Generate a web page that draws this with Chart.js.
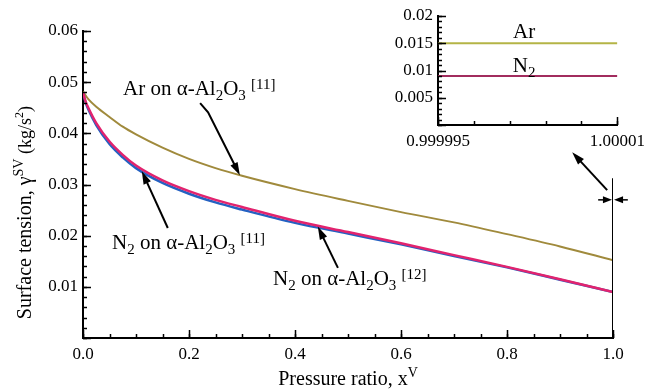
<!DOCTYPE html>
<html>
<head>
<meta charset="utf-8">
<script src="https://cdn.jsdelivr.net/npm/chart.js@4.4.1/dist/chart.umd.min.js"></script>
<style>
  html, body { margin: 0; padding: 0; background: #fff; }
  #wrap { position: relative; width: 651px; height: 390px; }
  #main { position: absolute; left: 0; top: 0; }
  #inset { position: absolute; left: 370px; top: 0; }
</style>
</head>
<body>
<div id="wrap">
  <canvas id="main" width="651" height="390"></canvas>
  <canvas id="inset" width="281" height="165"></canvas>
</div>
<script>
// Surface tension vs pressure ratio
const $ = (id) => document.getElementById(id);

const pressureRatio = [0, 0.005, 0.01, 0.025, 0.05, 0.075, 0.1, 0.15, 0.2, 0.25, 0.3, 0.4, 0.5, 0.6, 0.7, 0.8, 0.9, 1.0];
const arAl2O3_11 = [0.0482, 0.0474, 0.0467, 0.0452, 0.0432, 0.0413, 0.0398, 0.0372, 0.0350, 0.0332, 0.0317, 0.0291, 0.0268, 0.0246, 0.0226, 0.0203, 0.0179, 0.0152];
const n2Al2O3_12 = [0.0480, 0.0462, 0.0450, 0.0420, 0.0384, 0.0358, 0.0337, 0.0308, 0.0287, 0.0270, 0.0256, 0.0229, 0.0207, 0.0185, 0.0162, 0.0139, 0.0115, 0.0090];
const n2Al2O3_11 = [0.0480, 0.0460, 0.0447, 0.0416, 0.0379, 0.0353, 0.0332, 0.0303, 0.0282, 0.0265, 0.0251, 0.0225, 0.0204, 0.0183, 0.0160, 0.0138, 0.0114, 0.0090];

const xTickValues = [0, 0.2, 0.4, 0.6, 0.8, 1.0];
const xTickLabels = ["0.0", "0.2", "0.4", "0.6", "0.8", "1.0"];
const yTickValues = [0, 0.01, 0.02, 0.03, 0.04, 0.05, 0.06];
const yTickLabels = ["", "0.01", "0.02", "0.03", "0.04", "0.05", "0.06"];

// inset: zoom at x -> 1
const insetX = [0.999995, 1.00001];
const insetAr = [0.015, 0.015];
const insetN2 = [0.009, 0.009];
const insetXLabels = ["0.999995", "1.00001"];
const insetYValues = [0, 0.005, 0.01, 0.015, 0.02];
const insetYLabels = ["", "0.005", "0.01", "0.015", "0.02"];

const SERIF = "'Liberation Serif', 'Times New Roman', serif";
Chart.defaults.font.family = SERIF;
Chart.defaults.color = "#000";
const tickFont = { family: SERIF, size: 17 };

const pts = (xs, ys) => xs.map((x, i) => ({ x, y: ys[i] }));
const range = (a, b, step) => {
  const out = [];
  for (let i = 0; a + i * step <= b + step * 1e-6; i++) out.push(a + i * step);
  return out;
};

function richText(ctx, x, y, parts, align) {
  let w = 0;
  parts.forEach((p) => { ctx.font = p[1] + "px " + SERIF; w += ctx.measureText(p[0]).width; });
  let cx = align === "center" ? x - w / 2 : x;
  ctx.textBaseline = "alphabetic";
  ctx.textAlign = "left";
  parts.forEach((p) => {
    ctx.font = p[1] + "px " + SERIF;
    ctx.fillText(p[0], cx, y + p[2]);
    cx += ctx.measureText(p[0]).width;
  });
}

function arrow(ctx, path, L = 13, W = 4) {
  const n = path.length;
  const [x1, y1] = path[n - 2], [x2, y2] = path[n - 1];
  const a = Math.atan2(y2 - y1, x2 - x1);
  ctx.beginPath();
  ctx.moveTo(path[0][0], path[0][1]);
  for (let i = 1; i < n - 1; i++) ctx.lineTo(path[i][0], path[i][1]);
  ctx.lineTo(x2 - (L - 2) * Math.cos(a), y2 - (L - 2) * Math.sin(a));
  ctx.stroke();
  ctx.beginPath();
  ctx.moveTo(x2, y2);
  ctx.lineTo(x2 - L * Math.cos(a) + W * Math.sin(a), y2 - L * Math.sin(a) - W * Math.cos(a));
  ctx.lineTo(x2 - L * Math.cos(a) - W * Math.sin(a), y2 - L * Math.sin(a) + W * Math.cos(a));
  ctx.closePath();
  ctx.fill();
}

// inward tick marks, like the original plot
const inTicks = {
  id: "inTicks",
  afterDatasetsDraw(chart, args, opts) {
    const { ctx, scales: { x, y } } = chart;
    ctx.save();
    ctx.strokeStyle = "#000";
    ctx.lineWidth = 1.5;
    const mark = (vals, len, axis) => vals.forEach((v) => {
      ctx.beginPath();
      if (axis === "x") {
        const px = Math.round(x.getPixelForValue(v)) + 0.5;
        ctx.moveTo(px, y.bottom); ctx.lineTo(px, y.bottom - len);
      } else {
        const py = Math.round(y.getPixelForValue(v)) + 0.5;
        ctx.moveTo(x.left, py); ctx.lineTo(x.left + len, py);
      }
      ctx.stroke();
    });
    mark(opts.xMinor, 4, "x");
    mark(opts.xMajor, 8, "x");
    mark(opts.yMinor, 4, "y");
    mark(opts.yMajor, 8, "y");
    ctx.restore();
  },
};

const chem = (head, ref) => [...head, [" on \u03b1-Al", 21, 0], ["2", 15, 5], ["O", 21, 0], ["3", 15, 5], [" ", 21, 0], [ref, 15, -6]];

// labels, arrows and axis titles of the main plot
const mainNotes = {
  id: "mainNotes",
  afterDraw(chart) {
    const { ctx, scales: { x, y } } = chart;
    const P = (a, b) => [x.getPixelForValue(a), y.getPixelForValue(b)];
    ctx.save();
    ctx.fillStyle = "#000";
    ctx.strokeStyle = "#000";
    ctx.lineWidth = 2;

    let p = P(0.0755, 0.0475);
    richText(ctx, p[0], p[1], chem([["Ar", 21, 0]], "[11]"));
    p = P(0.0547, 0.0174);
    richText(ctx, p[0], p[1], chem([["N", 21, 0], ["2", 15, 5]], "[11]"));
    p = P(0.3585, 0.0103);
    richText(ctx, p[0], p[1], chem([["N", 21, 0], ["2", 15, 5]], "[12]"));

    arrow(ctx, [P(0.221, 0.0459), P(0.236, 0.0441), P(0.296, 0.0318)]);
    arrow(ctx, [P(0.160, 0.0215), P(0.111, 0.0326)]);
    arrow(ctx, [P(0.481, 0.0137), P(0.443, 0.0218)]);
    arrow(ctx, [P(0.989, 0.0289), P(0.923, 0.0363)]);

    ctx.lineWidth = 1.5;
    arrow(ctx, [P(0.972, 0.0270), P(0.998, 0.0270)], 9, 3.5);
    arrow(ctx, [P(1.028, 0.0270), P(1.002, 0.0270)], 9, 3.5);

    // axis titles
    richText(ctx, (x.left + x.right) / 2, 385, [["Pressure ratio, x", 20, 0], ["V", 14, -8]], "center");
    ctx.translate(31, y.getPixelForValue(0.0245));
    ctx.rotate(-Math.PI / 2);
    richText(ctx, 0, 0, [["Surface tension, \u03b3", 20, 0], ["SV", 14, -8], [" (kg/s", 18, 0], ["2", 12, -8], [")", 18, 0]], "center");
    ctx.restore();
  },
};

const lineSet = (label, data, color, width, order) => ({
  label, data, borderColor: color, borderWidth: width, pointRadius: 0,
  cubicInterpolationMode: "monotone", fill: false, order,
});

new Chart($("main"), {
  type: "line",
  data: {
    datasets: [
      lineSet("N2 on a-Al2O3 [12]", pts(pressureRatio, n2Al2O3_12), "#e2236e", 2.5, 1),
      lineSet("N2 on a-Al2O3 [11]", pts(pressureRatio, n2Al2O3_11), "#2461c2", 2.5, 2),
      lineSet("Ar on a-Al2O3 [11]", pts(pressureRatio, arAl2O3_11), "#a08a3c", 2, 3),
      lineSet("x = 1", pts([1, 1], [0, 0.0312]), "#000", 2, 0),
    ],
  },
  options: {
    responsive: false,
    animation: false,
    devicePixelRatio: 1,
    layout: { padding: { left: 0, right: 38, top: 31, bottom: 0 } },
    plugins: {
      legend: { display: false },
      tooltip: { enabled: false },
      inTicks: {
        xMajor: xTickValues, xMinor: range(0, 1, 0.05),
        yMajor: yTickValues, yMinor: range(0, 0.06, 0.002),
      },
    },
    scales: {
      x: {
        type: "linear", min: 0, max: 1,
        afterBuildTicks: (s) => { s.ticks = xTickValues.map((value) => ({ value })); },
        afterFit: (s) => { s.height = 52; },
        ticks: { callback: (v, i) => xTickLabels[i], font: tickFont, padding: 6, maxRotation: 0, autoSkip: false },
        grid: { display: false, drawTicks: false },
        border: { display: true, color: "#000", width: 2 },
      },
      y: {
        type: "linear", min: 0, max: 0.06,
        afterBuildTicks: (s) => { s.ticks = yTickValues.map((value) => ({ value })); },
        afterFit: (s) => { s.width = 83; },
        ticks: { callback: (v, i) => yTickLabels[i], font: tickFont, padding: 5, autoSkip: false },
        grid: { display: false, drawTicks: false },
        border: { display: true, color: "#000", width: 2 },
      },
    },
  },
  plugins: [inTicks, mainNotes],
});

// inset labels "Ar" and "N2"
const insetNotes = {
  id: "insetNotes",
  afterDraw(chart) {
    const { ctx, scales: { x, y } } = chart;
    ctx.save();
    ctx.fillStyle = "#000";
    richText(ctx, x.getPixelForValue(1.0000022), y.getPixelForValue(0.016), [["Ar", 21, 0]], "center");
    richText(ctx, x.getPixelForValue(1.0000022), y.getPixelForValue(0.0097), [["N", 21, 0], ["2", 15, 5]], "center");
    ctx.restore();
  },
};

new Chart($("inset"), {
  type: "line",
  data: {
    datasets: [
      lineSet("Ar", pts(insetX, insetAr), "#b4b446", 2, 0),
      lineSet("N2", pts(insetX, insetN2), "#a22c5e", 2, 1),
    ],
  },
  options: {
    responsive: false,
    animation: false,
    devicePixelRatio: 1,
    layout: { padding: { left: 0, right: 28, top: 16, bottom: 0 } },
    plugins: {
      legend: { display: false },
      tooltip: { enabled: false },
      inTicks: {
        xMajor: insetX, xMinor: range(0.999995, 1.00001, 0.000003),
        yMajor: insetYValues, yMinor: range(0, 0.02, 0.001),
      },
    },
    scales: {
      x: {
        type: "linear", min: insetX[0], max: insetX[1],
        afterBuildTicks: (s) => { s.ticks = insetX.map((value) => ({ value })); },
        afterFit: (s) => { s.height = 40; },
        ticks: { callback: (v, i) => insetXLabels[i], font: tickFont, padding: 6, maxRotation: 0, autoSkip: false },
        grid: { display: false, drawTicks: false },
        border: { display: true, color: "#000", width: 2 },
      },
      y: {
        type: "linear", min: 0, max: 0.02,
        afterBuildTicks: (s) => { s.ticks = insetYValues.map((value) => ({ value })); },
        afterFit: (s) => { s.width = 68; },
        ticks: { callback: (v, i) => insetYLabels[i], font: tickFont, padding: 5, autoSkip: false },
        grid: { display: false, drawTicks: false },
        border: { display: true, color: "#000", width: 2 },
      },
    },
  },
  plugins: [inTicks, insetNotes],
});
</script>
</body>
</html>
